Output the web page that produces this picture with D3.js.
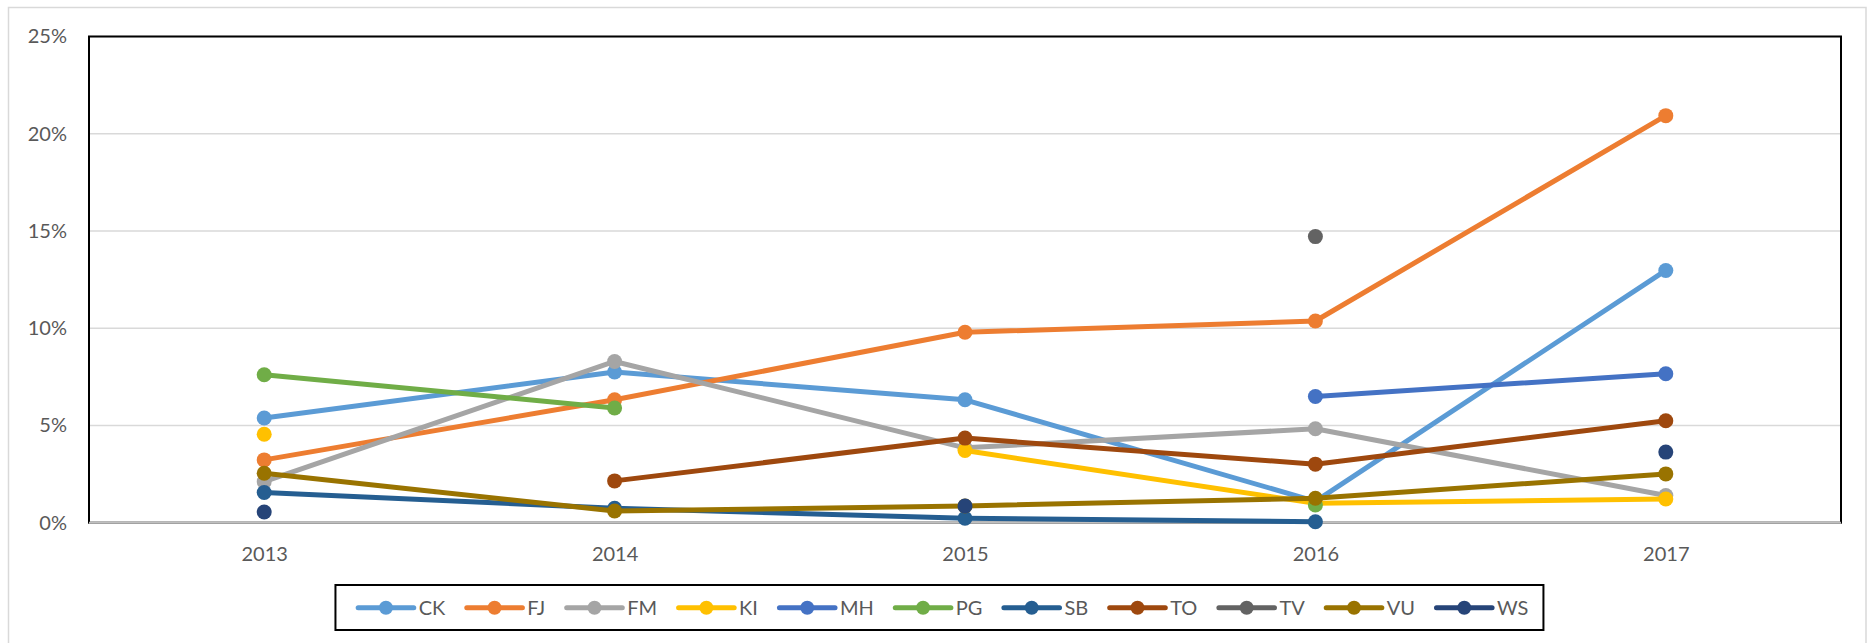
<!DOCTYPE html>
<html>
<head>
<meta charset="utf-8">
<script src="https://cdn.jsdelivr.net/npm/d3@7"></script>
<style>
  html, body { margin: 0; padding: 0; background: #fff; }
  svg { display: block; font-family: Lato, "Open Sans", sans-serif; }
</style>
</head>
<body>
<svg id="chart" width="1870" height="643"></svg>
<script>
// ---- data ----
const years = ["2013", "2014", "2015", "2016", "2017"];
const seriesNames = ["CK", "FJ", "FM", "KI", "MH", "PG", "SB", "TO", "TV", "VU", "WS"];
const seriesColors = ["#5B9BD5", "#ED7D31", "#A5A5A5", "#FFC000", "#4472C4", "#70AD47", "#255E91", "#9E480E", "#636363", "#997300", "#264478"];
const yTicks = [0, 0.05, 0.10, 0.15, 0.20, 0.25];
// values in percent (null = no data)
const CK = [5.38, 7.75, 6.32, 1.1, 12.97];
const FJ = [3.23, 6.32, 9.79, 10.37, 20.93];
const FM = [2.11, 8.29, 3.85, 4.83, 1.4];
const KI = [4.55, null, 3.71, 1.0, 1.22];
const MH = [null, null, null, 6.49, 7.66];
const PG = [7.61, 5.90, null, 0.91, null];
const SB = [1.55, 0.74, 0.23, 0.05, null];
const TO = [null, 2.15, 4.35, 3.01, 5.24];
const TV = [null, null, null, 14.71, null];
const VU = [2.54, 0.60, 0.86, 1.26, 2.51];
const WS = [0.55, null, 0.86, null, 3.63];
const seriesValues = [CK, FJ, FM, KI, MH, PG, SB, TO, TV, VU, WS];

// ---- layout ----
const svg = d3.select("#chart");
const plot = { left: 89, right: 1841, top: 36.5, bottom: 522.7 };
const textColor = "#595959";
const fontFamily = "Lato, 'Open Sans', sans-serif";

const x = d3.scalePoint().domain(years).range([plot.left, plot.right]).padding(0.5);
const y = d3.scaleLinear().domain([0, 0.25]).range([plot.bottom, plot.top]);

// outer chart border
svg.append("rect")
  .attr("x", 8.5).attr("y", 7.5).attr("width", 1857.5).attr("height", 700)
  .attr("fill", "none").attr("stroke", "#d9d9d9").attr("stroke-width", 1.5);

// gridlines
svg.append("g").selectAll("line").data(yTicks.filter(d => d > 0)).join("line")
  .attr("x1", plot.left).attr("x2", plot.right)
  .attr("y1", d => y(d)).attr("y2", d => y(d))
  .attr("stroke", "#d9d9d9").attr("stroke-width", 1.5);

// plot area border
svg.append("rect")
  .attr("x", plot.left).attr("y", plot.top)
  .attr("width", plot.right - plot.left).attr("height", plot.bottom - plot.top)
  .attr("fill", "none").attr("stroke", "#000").attr("stroke-width", 2);

// bottom axis line
svg.append("line")
  .attr("x1", plot.left).attr("x2", plot.right)
  .attr("y1", y(0)).attr("y2", y(0))
  .attr("stroke", "#bfbfbf").attr("stroke-width", 2);

// y axis
const yAxis = svg.append("g").attr("transform", `translate(${plot.left},0)`)
  .call(d3.axisLeft(y).tickValues(yTicks).tickFormat(d3.format(".0%")).tickSize(0).tickPadding(22));
yAxis.select(".domain").remove();
yAxis.selectAll("text").attr("fill", textColor).style("font-size", "20px").style("font-family", fontFamily);

// x axis
const xAxis = svg.append("g").attr("transform", `translate(0,${plot.bottom})`)
  .call(d3.axisBottom(x).tickSize(0).tickPadding(24.6));
xAxis.select(".domain").remove();
xAxis.selectAll("text").attr("fill", textColor).style("font-size", "20px").style("font-family", fontFamily);

// series
const line = d3.line()
  .defined(d => d.v != null)
  .x(d => x(d.year))
  .y(d => y(d.v / 100));

const series = seriesNames.map((name, i) => ({
  name, color: seriesColors[i],
  points: years.map((yr, j) => ({ year: yr, v: seriesValues[i][j] }))
}));

const sg = svg.append("g").selectAll("g").data(series).join("g");
sg.append("path")
  .attr("d", d => line(d.points))
  .attr("fill", "none").attr("stroke", d => d.color)
  .attr("stroke-width", 5).attr("stroke-linejoin", "round").attr("stroke-linecap", "round");
sg.each(function(s) {
  d3.select(this).selectAll("circle").data(s.points.filter(p => p.v != null)).join("circle")
    .attr("cx", p => x(p.year)).attr("cy", p => y(p.v / 100)).attr("r", 7.5)
    .attr("fill", s.color);
});

// legend
const legendCenterY = 607.7;
const legendBox = svg.append("rect")
  .attr("y", 585).attr("height", 45)
  .attr("fill", "#fff").attr("stroke", "#000").attr("stroke-width", 2);
const lg = svg.append("g");
let cx = 0;
series.forEach((s) => {
  const g = lg.append("g");
  g.append("line").attr("x1", cx).attr("x2", cx + 55.6)
    .attr("y1", legendCenterY).attr("y2", legendCenterY)
    .attr("stroke", s.color).attr("stroke-width", 5).attr("stroke-linecap", "round");
  g.append("circle").attr("cx", cx + 27.8).attr("cy", legendCenterY).attr("r", 7).attr("fill", s.color);
  const t = g.append("text").attr("x", cx + 60.5).attr("y", legendCenterY)
    .attr("dy", "0.35em").attr("fill", textColor)
    .style("font-size", "20px").style("font-family", fontFamily).text(s.name);
  const w = t.node().getComputedTextLength();
  cx = cx + 60.5 + w + 21.5;
});
const contentW = cx - 21.5;
const startX = 943.3 - contentW / 2;
lg.attr("transform", `translate(${startX},0)`);
legendBox.attr("x", startX - 22.7).attr("width", contentW + 22.7 + 15);
</script>
</body>
</html>
